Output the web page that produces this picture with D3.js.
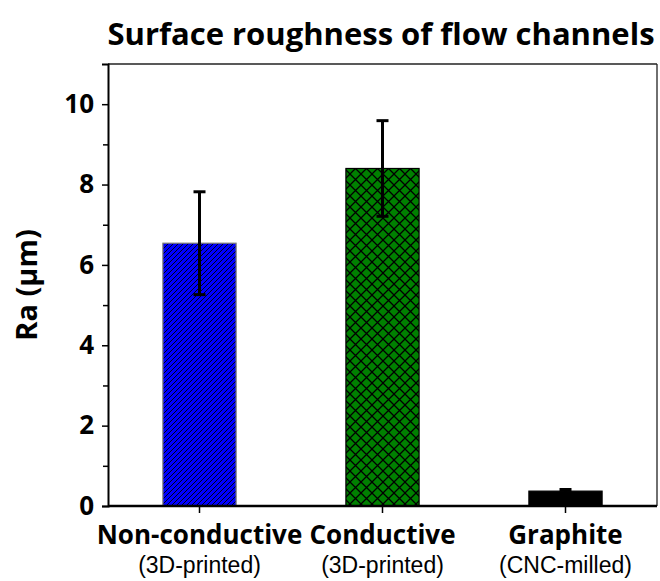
<!DOCTYPE html>
<html>
<head>
<meta charset="utf-8">
<script src="https://cdn.jsdelivr.net/npm/d3@7"></script>
<style>
  body { margin: 0; background: #fff; }
  svg text { fill: #000; }
</style>
</head>
<body>
<div id="chart"></div>
<script>
const categories = ['Non-conductive', 'Conductive', 'Graphite']
const subLabels = ['(3D-printed)', '(3D-printed)', '(CNC-milled)']
const values = [6.54, 8.4, 0.37]
const errors = [1.28, 1.19, 0.04]
const yTicks = [0, 2, 4, 6, 8, 10]
const yMinorTicks = [1, 3, 5, 7, 9]

const W = 660
const H = 581
const margin = { top: 64, left: 108, right: 3, bottom: 75 }
const width = W - margin.left - margin.right
const height = H - margin.top - margin.bottom

const svg = d3
  .select('#chart')
  .append('svg')
  .attr('width', W)
  .attr('height', H)

const defs = svg.append('defs')

// diagonal hatch for the blue bar
const hatch = defs
  .append('pattern')
  .attr('id', 'hatch')
  .attr('patternUnits', 'userSpaceOnUse')
  .attr('width', 5)
  .attr('height', 5)
hatch.append('rect').attr('width', 5).attr('height', 5).attr('fill', '#0000ff')
hatch
  .append('path')
  .attr('d', 'M-1,1 L1,-1 M0,5 L5,0 M4,6 L6,4')
  .attr('stroke', '#000')
  .attr('stroke-width', 0.9)

// cross hatch for the green bar
const cross = defs
  .append('pattern')
  .attr('id', 'cross')
  .attr('patternUnits', 'userSpaceOnUse')
  .attr('width', 11)
  .attr('height', 11)
cross.append('rect').attr('width', 11).attr('height', 11).attr('fill', '#008000')
cross
  .append('path')
  .attr('d', 'M0,0 L11,11 M0,11 L11,0')
  .attr('stroke', '#000')
  .attr('stroke-width', 1.3)

const fills = ['url(#hatch)', 'url(#cross)', '#000']
const strokes = ['#777', '#000', '#000']

const g = svg
  .append('g')
  .attr('transform', 'translate(' + margin.left + ',' + margin.top + ')')

const x = d3
  .scaleBand()
  .domain(categories)
  .range([0, width])
  .paddingInner(0.6)
  .paddingOuter(0.3)

const y = d3
  .scaleLinear()
  .domain([0, 11])
  .range([height, 0])

// frame top and right
g.append('line')
  .attr('x1', 0).attr('x2', width)
  .attr('y1', 0).attr('y2', 0)
  .attr('stroke', '#222').attr('stroke-width', 1.3)
g.append('line')
  .attr('x1', width).attr('x2', width)
  .attr('y1', 0).attr('y2', height)
  .attr('stroke', '#222').attr('stroke-width', 1.3)

// bars
g.selectAll('.bar')
  .data(values)
  .enter()
  .append('rect')
  .attr('class', 'bar')
  .attr('x', (d, i) => x(categories[i]))
  .attr('width', x.bandwidth())
  .attr('y', d => y(d))
  .attr('height', d => height - y(d))
  .attr('fill', (d, i) => fills[i])
  .attr('stroke', (d, i) => strokes[i])
  .attr('stroke-width', 1.2)

// error bars
const errG = g.selectAll('.err')
  .data(values)
  .enter()
  .append('g')
  .attr('class', 'err')
  .attr('transform', (d, i) => 'translate(' + (x(categories[i]) + x.bandwidth() / 2) + ',0)')

errG.append('line')
  .attr('y1', (d, i) => y(d + errors[i]))
  .attr('y2', (d, i) => y(d - errors[i]))
  .attr('stroke', '#000')
  .attr('stroke-width', 3)
errG.append('line')
  .attr('x1', -6).attr('x2', 6)
  .attr('y1', (d, i) => y(d + errors[i]))
  .attr('y2', (d, i) => y(d + errors[i]))
  .attr('stroke', '#000').attr('stroke-width', 3)
errG.append('line')
  .attr('x1', -6).attr('x2', 6)
  .attr('y1', (d, i) => y(d - errors[i]))
  .attr('y2', (d, i) => y(d - errors[i]))
  .attr('stroke', '#000').attr('stroke-width', 3)

// axes
const yAxis = d3.axisLeft(y).tickValues(yTicks).tickSize(6).tickPadding(8)
g.append('g')
  .attr('class', 'axis y-axis')
  .call(yAxis)
  .call(a => a.select('.domain').attr('stroke-width', 2))
  .call(a => a.selectAll('.tick line').attr('stroke-width', 1.5))
  .call(a => a.selectAll('text')
    .attr('font-family', 'Open Sans, sans-serif')
    .attr('font-weight', 700)
    .attr('font-size', 26))

g.append('g')
  .attr('class', 'axis y-minor')
  .call(d3.axisLeft(y).tickValues(yMinorTicks).tickSize(5).tickFormat(''))
  .call(a => a.select('.domain').remove())
  .call(a => a.selectAll('.tick line').attr('stroke-width', 1.5))

const xAxis = d3.axisBottom(x).tickSize(7).tickFormat('')
g.append('g')
  .attr('class', 'axis x-axis')
  .attr('transform', 'translate(0,' + height + ')')
  .call(xAxis)
  .call(a => a.select('.domain').attr('stroke-width', 2.5).attr('d', 'M0,0H' + width))
  .call(a => a.selectAll('.tick line').attr('stroke-width', 1.5))

// category labels
const labG = g.append('g').attr('transform', 'translate(0,' + height + ')')
labG.selectAll('.cat')
  .data(categories)
  .enter()
  .append('text')
  .attr('class', 'cat')
  .attr('x', d => x(d) + x.bandwidth() / 2)
  .attr('y', 38)
  .attr('text-anchor', 'middle')
  .attr('font-family', 'Open Sans, sans-serif')
  .attr('font-weight', 700)
  .attr('font-size', 26)
  .text(d => d)
labG.selectAll('.sub')
  .data(subLabels)
  .enter()
  .append('text')
  .attr('class', 'sub')
  .attr('x', (d, i) => x(categories[i]) + x.bandwidth() / 2)
  .attr('y', 67)
  .attr('text-anchor', 'middle')
  .attr('font-family', 'Liberation Sans, Arial, sans-serif')
  .attr('font-size', 23)
  .text(d => d)

// y label
svg.append('text')
  .attr('transform', 'translate(37,' + (margin.top + height / 2) + ') rotate(-90)')
  .attr('text-anchor', 'middle')
  .attr('font-family', 'Open Sans, sans-serif')
  .attr('font-weight', 700)
  .attr('font-size', 29)
  .text('Ra (μm)')

// title
svg.append('text')
  .attr('x', 381)
  .attr('y', 45)
  .attr('text-anchor', 'middle')
  .attr('font-family', 'Open Sans, sans-serif')
  .attr('font-weight', 700)
  .attr('font-size', 31)
  .text('Surface roughness of flow channels')
</script>
</body>
</html>
